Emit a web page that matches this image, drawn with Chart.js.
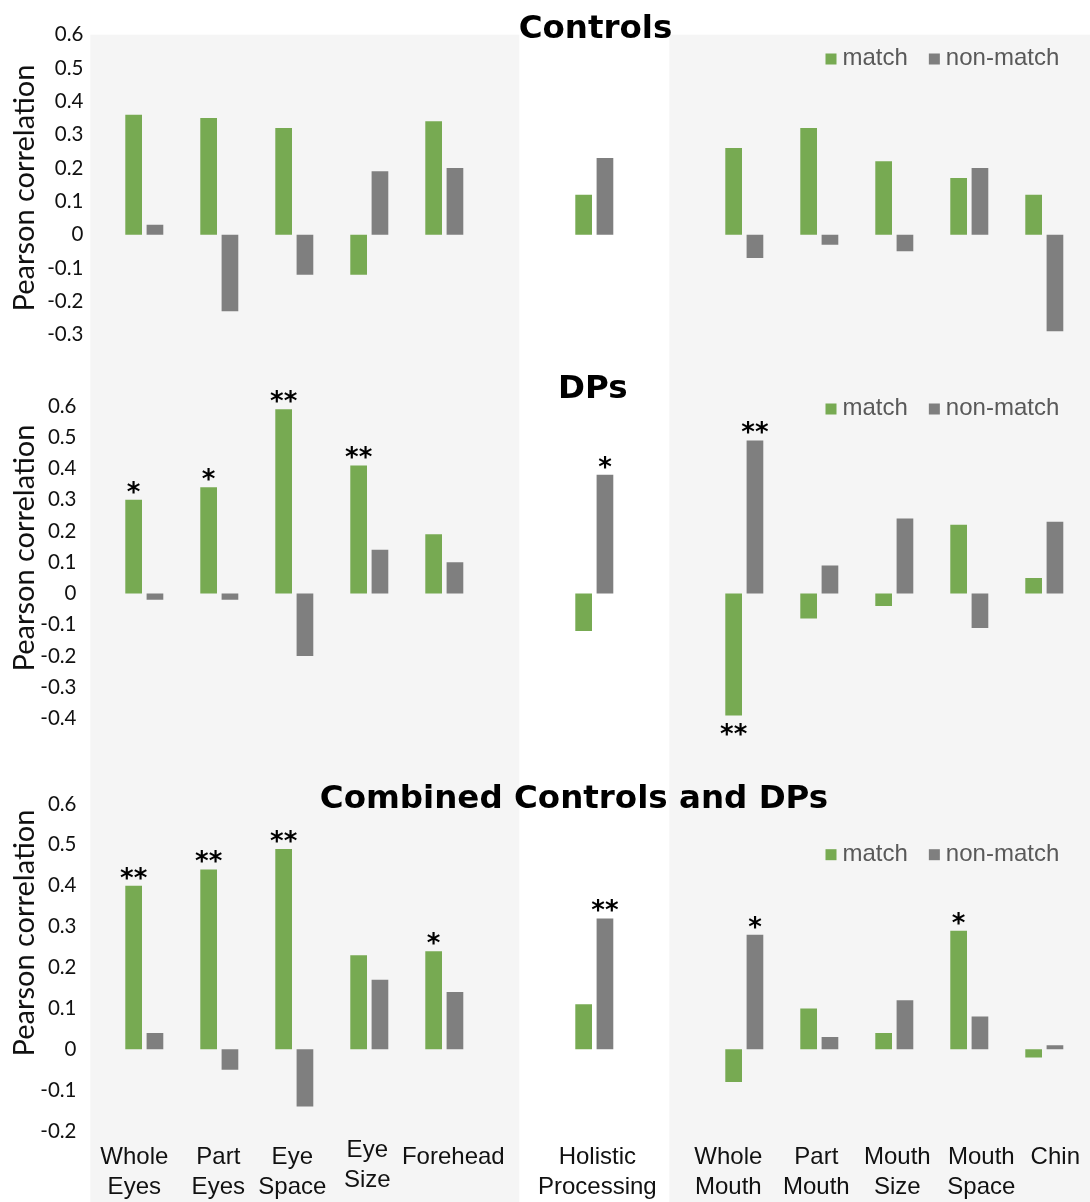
<!DOCTYPE html>
<html><head><meta charset="utf-8">
<script src="https://cdn.jsdelivr.net/npm/chart.js@4/dist/chart.umd.min.js"></script>
<style>
html,body{margin:0;padding:0;background:#fff;}
#wrap{position:relative;width:1090px;height:1202px;overflow:hidden;background:#fff;}
canvas{position:absolute;left:0;display:block;}
</style></head><body>
<div id="wrap">
<canvas id="c1" width="1090" height="350" style="top:0px;width:1090px;height:350px"></canvas>
<canvas id="c2" width="1090" height="420" style="top:350px;width:1090px;height:420px"></canvas>
<canvas id="c3" width="1090" height="432" style="top:770px;width:1090px;height:432px"></canvas>
</div>
<script>
// ---------- data ----------
const categories = [['Whole','Eyes'],['Part','Eyes'],['Eye','Space'],['Eye','Size'],'Forehead','',
  ['Holistic','Processing'],'',['Whole','Mouth'],['Part','Mouth'],['Mouth','Size'],['Mouth','Space'],'Chin'];
const seriesNames = ['match','non-match'];
const panelTitles = ['Controls','DPs','Combined Controls and DPs'];
const yAxisTitle = 'Pearson correlation';

const controlsMatch    = [0.36, 0.35, 0.32, -0.12, 0.34, null, 0.12, null, 0.26, 0.32, 0.22, 0.17, 0.12];
const controlsNonMatch = [0.03, -0.23, -0.12, 0.19, 0.20, null, 0.23, null, -0.07, -0.03, -0.05, 0.20, -0.29];
const dpsMatch         = [0.30, 0.34, 0.59, 0.41, 0.19, null, -0.12, null, -0.39, -0.08, -0.04, 0.22, 0.05];
const dpsNonMatch      = [-0.02, -0.02, -0.20, 0.14, 0.10, null, 0.38, null, 0.49, 0.09, 0.24, -0.11, 0.23];
const combinedMatch    = [0.40, 0.44, 0.49, 0.23, 0.24, null, 0.11, null, -0.08, 0.10, 0.04, 0.29, -0.02];
const combinedNonMatch = [0.04, -0.05, -0.14, 0.17, 0.14, null, 0.32, null, 0.28, 0.03, 0.12, 0.08, 0.01];

const controlsMatchSig    = ['','','','','',null,'',null,'','','','',''];
const controlsNonMatchSig = ['','','','','',null,'',null,'','','','',''];
const dpsMatchSig         = ['*','*','**','**','',null,'',null,'**','','','',''];
const dpsNonMatchSig      = ['','','','','',null,'*',null,'**','','','',''];
const combinedMatchSig    = ['**','**','**','','*',null,'',null,'','','','*',''];
const combinedNonMatchSig = ['','','','','',null,'**',null,'*','','','',''];

const controlsYTicks = [0.6,0.5,0.4,0.3,0.2,0.1,0,-0.1,-0.2,-0.3];
const dpsYTicks      = [0.6,0.5,0.4,0.3,0.2,0.1,0,-0.1,-0.2,-0.3,-0.4];
const combinedYTicks = [0.6,0.5,0.4,0.3,0.2,0.1,0,-0.1,-0.2];

// ---------- style ----------
const GREEN = '#77aa52';
const GRAY = '#7f7f7f';
const SHADE = '#f5f5f5';
const TEXT = '#111111';
const LEGEND_TEXT = '#595959';
const SANS = '"Liberation Sans", Arial, sans-serif';
const CAL = 'Lato, "Open Sans", sans-serif';
const BOLD = '"DejaVu Sans", sans-serif';
// small text-box nudges of the category labels (px), as in the original figure
const labelNudgeX = [-10, -1, -2, -2, 9, 0, 3, 0, -16, -3, 3, 12, 11];
const labelNudgeY = [0, 0, 0, -7, 0, 0, 0, 0, 0, 0, 0, 0, 0];

const panels = [
  {id:'c1', match:controlsMatch, non:controlsNonMatch, sigM:controlsMatchSig, sigN:controlsNonMatchSig,
   ticks:controlsYTicks, title:panelTitles[0], padTop:34.7, plotBottom:334.7, showX:false, tickRight:83.4,
   titleX:595.5, titleBase:38.3, legendBase:65, yTitleY:188, shadeFromArea:true},
  {id:'c2', match:dpsMatch, non:dpsNonMatch, sigM:dpsMatchSig, sigN:dpsNonMatchSig,
   ticks:dpsYTicks, title:panelTitles[1], padTop:56, plotBottom:368.5, showX:false, tickRight:76.5,
   titleX:592.7, titleBase:48.3, legendBase:65, yTitleY:198, shadeFromArea:false},
  {id:'c3', match:combinedMatch, non:combinedNonMatch, sigM:combinedMatchSig, sigN:combinedNonMatchSig,
   ticks:combinedYTicks, title:panelTitles[2], padTop:34, plotBottom:361, showX:true, tickRight:76.5,
   titleX:574, titleBase:38.3, legendBase:90.7, yTitleY:163, shadeFromArea:false}
];

const PLOT_LEFT = 106.8, PLOT_RIGHT = 1081.8;

const decor = {
  id:'decor',
  beforeDraw(chart, args, o){
    const {ctx, chartArea} = chart;
    const x = chart.scales.x;
    const top = o.shadeFromArea ? chartArea.top : 0;
    const H = chart.height;
    ctx.save();
    ctx.fillStyle = SHADE;
    const eL = x.getPixelForValue(-0.72), eR = x.getPixelForValue(5);
    const mL = x.getPixelForValue(7);
    ctx.fillRect(eL, top, eR - eL, H - top);
    ctx.fillRect(mL, top, chart.width - mL, H - top);
    ctx.restore();
  },
  afterDraw(chart, args, o){
    const ctx = chart.ctx;
    const xs = chart.scales.x;
    ctx.save();
    // category labels (bottom panel only)
    if (o.showX) {
      ctx.font = '24px ' + SANS;
      ctx.fillStyle = TEXT;
      ctx.textAlign = 'center';
      ctx.textBaseline = 'alphabetic';
      chart.data.labels.forEach((lab, i) => {
        const lines = Array.isArray(lab) ? lab : [lab];
        const cx = xs.getPixelForValue(i) + labelNudgeX[i];
        const base = chart.chartArea.bottom + 33 + labelNudgeY[i];
        lines.forEach((t, k) => ctx.fillText(t, cx, base + k * 30));
      });
    }
    // significance stars
    ctx.font = 'bold 26px ' + BOLD;
    ctx.fillStyle = '#000';
    ctx.textAlign = 'center';
    ctx.textBaseline = 'alphabetic';
    [o.sigM, o.sigN].forEach((sig, di) => {
      const meta = chart.getDatasetMeta(di);
      const data = chart.data.datasets[di].data;
      sig.forEach((s, j) => {
        if (!s) return;
        const bar = meta.data[j];
        const m = ctx.measureText(s);
        let y;
        if (data[j] >= 0) y = bar.y - 6 - m.actualBoundingBoxDescent;
        else y = bar.y + 8 + m.actualBoundingBoxAscent;
        ctx.fillText(s, bar.x, y);
      });
    });
    // title
    ctx.font = 'bold 32.5px ' + BOLD;
    ctx.fillStyle = '#000';
    ctx.textAlign = 'center';
    ctx.fillText(o.title, o.titleX, o.titleBase);
    // legend
    ctx.font = '24px ' + SANS;
    ctx.textAlign = 'left';
    let lx = 825.5;
    chart.data.datasets.forEach(ds => {
      ctx.fillStyle = ds.backgroundColor;
      ctx.fillRect(lx, o.legendBase - 11.5, 11, 11);
      lx += 11 + 6;
      ctx.fillStyle = LEGEND_TEXT;
      ctx.fillText(ds.label, lx, o.legendBase);
      lx += ctx.measureText(ds.label).width + 21;
    });
    // y axis title
    ctx.font = '29px ' + CAL;
    ctx.fillStyle = TEXT;
    ctx.translate(25, o.yTitleY);
    ctx.rotate(-Math.PI / 2);
    ctx.textAlign = 'center';
    ctx.textBaseline = 'middle';
    ctx.fillText(yAxisTitle, 0, 0);
    ctx.restore();
  }
};

panels.forEach(p => {
  const canvas = document.getElementById(p.id);
  const H = canvas.height;
  new Chart(canvas, {
    type: 'bar',
    data: {
      labels: categories,
      datasets: [
        {label: seriesNames[0], data: p.match, backgroundColor: GREEN, borderWidth: 0},
        {label: seriesNames[1], data: p.non, backgroundColor: GRAY, borderWidth: 0}
      ]
    },
    options: {
      responsive: false,
      devicePixelRatio: 1,
      animation: false,
      categoryPercentage: 0.568,
      barPercentage: 0.784,
      layout: {padding: {left: 0, right: 1090 - PLOT_RIGHT, top: p.padTop, bottom: p.showX ? 0 : H - p.plotBottom}},
      plugins: {
        legend: {display: false},
        tooltip: {enabled: false},
        decor: {sigM: p.sigM, sigN: p.sigN, title: p.title, titleX: p.titleX, titleBase: p.titleBase,
                legendBase: p.legendBase, yTitleY: p.yTitleY, shadeFromArea: p.shadeFromArea, showX: p.showX}
      },
      scales: {
        x: {
          display: p.showX,
          grid: {display: false, drawTicks: false},
          border: {display: false},
          ticks: {display: false, autoSkip: false, maxRotation: 0, minRotation: 0},
          afterFit: (s) => { if (p.showX) s.height = H - p.plotBottom; s.paddingLeft = 0; s.paddingRight = 0; }
        },
        y: {
          min: Math.min(...p.ticks),
          max: Math.max(...p.ticks),
          grid: {display: false, drawTicks: true, tickLength: PLOT_LEFT - p.tickRight},
          border: {display: false},
          ticks: {stepSize: 0.1, padding: 0, color: TEXT,
                  font: {family: CAL, size: 20.5},
                  callback: (v) => Math.abs(v) < 1e-9 ? '0' : Number(v).toFixed(1)},
          afterFit: (s) => { s.width = PLOT_LEFT; s.paddingTop = 0; s.paddingBottom = 0; }
        }
      }
    },
    plugins: [decor]
  });
});
</script>
</body></html>
